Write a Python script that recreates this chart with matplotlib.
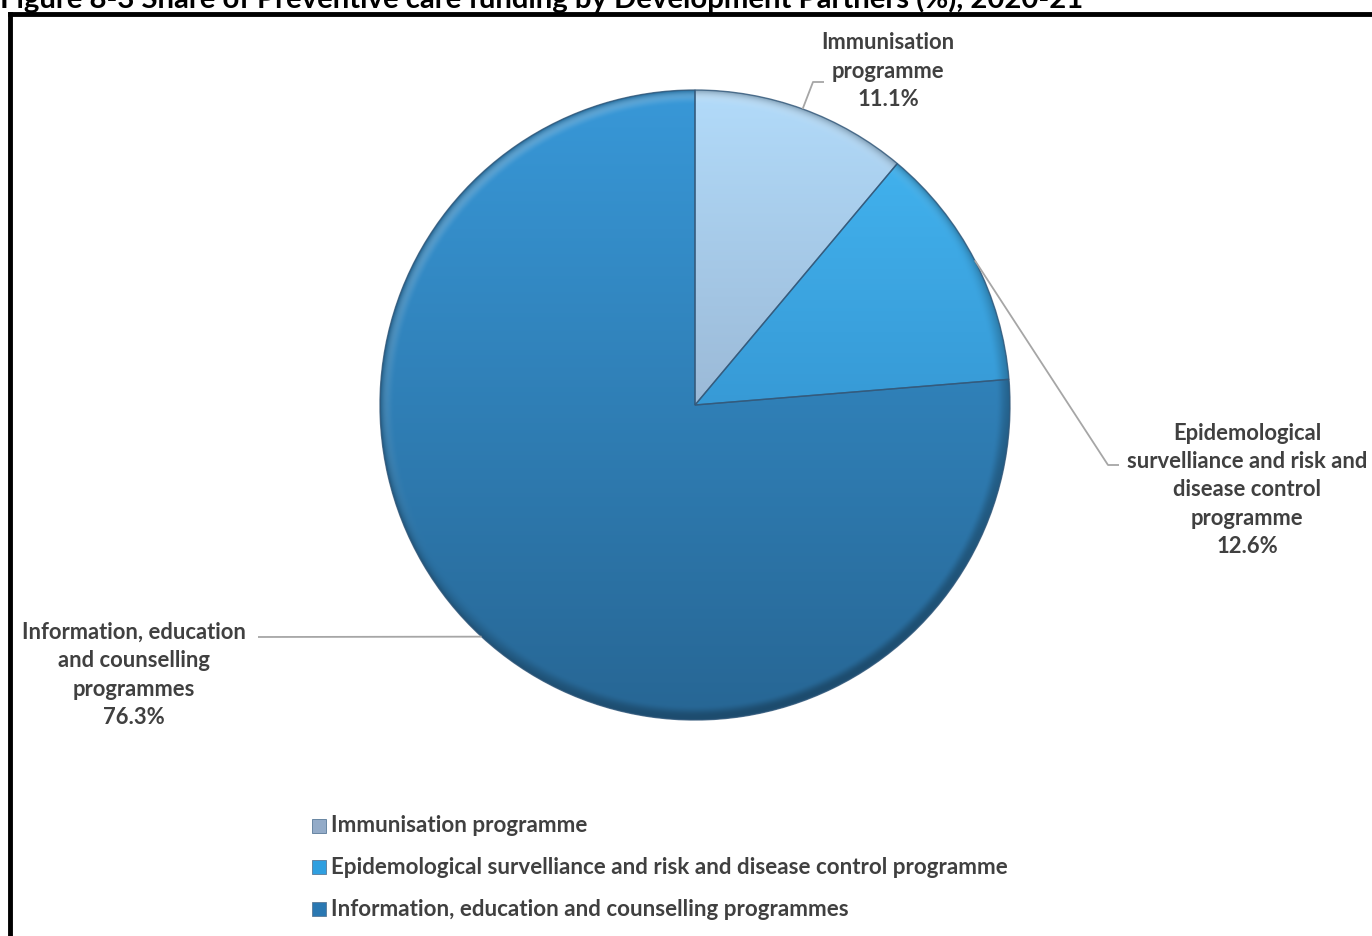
import numpy as np
import matplotlib
matplotlib.use("Agg")
import matplotlib.pyplot as plt
from matplotlib.colors import to_rgb
from matplotlib.patches import Wedge

# ---- data -------------------------------------------------------------
categories = [
    "Immunisation programme",
    "Epidemological survelliance and risk and disease control programme",
    "Information, education and counselling programmes",
]
shares = [11.1, 12.6, 76.3]
label_lines = [
    ["Immunisation", "programme"],
    ["Epidemological", "survelliance and risk and", "disease control", "programme"],
    ["Information, education", "and counselling", "programmes"],
]
title = "Figure 8-3 Share of Preventive care funding by Development Partners (%), 2020-21"

# top / bottom colours of each slice's vertical gradient
grad_top = ["#b2dbfa", "#44b8f4", "#3898d8"]
grad_bot = ["#8498b4", "#2a7cb8", "#276694"]
legend_colors = ["#93abc8", "#2f9fe0", "#2a78b2"]

TEXT = "#404040"
FONT = "Lato"

W, H = 1372, 936
fig = plt.figure(figsize=(W / 100, H / 100), dpi=100)
ax = fig.add_axes([0, 0, 1, 1])

cx, cy, R = 695, H - 405, 315
wedges, _ = ax.pie(shares, startangle=90, counterclock=False,
                   center=(cx, cy), radius=R, colors=legend_colors,
                   wedgeprops=dict(linewidth=0))
ax.set_xlim(0, W)
ax.set_ylim(0, H)
ax.set_aspect("equal")
ax.axis("off")

# shaded fill: vertical gradient with a bevelled rim
n = 700
xs = np.linspace(cx - R, cx + R, n)
ys = np.linspace(cy - R, cy + R, n)
X, Y = np.meshgrid(xs, ys)
rr = np.hypot(X - cx, Y - cy) / R
t = (Y - (cy - R)) / (2 * R)           # 0 bottom .. 1 top
ang = np.arctan2(Y - cy, X - cx)
rim = np.clip((rr - 0.955) / 0.045, 0, 1)
rim_dir = np.cos(ang - np.deg2rad(120))  # light from upper left
for w, ct, cb in zip(wedges, grad_top, grad_bot):
    ct, cb = np.array(to_rgb(ct)), np.array(to_rgb(cb))
    img = cb[None, None, :] * (1 - t[..., None]) + ct[None, None, :] * t[..., None]
    shade = rim * np.sin(rim * np.pi) * 0.35 * rim_dir
    lighten = np.clip(shade, 0, None)[..., None]
    darken = np.clip(-shade, 0, None)[..., None]
    img = img + (1 - img) * lighten - img * darken
    img = img * (1 - 0.25 * rim[..., None] ** 3)
    im = ax.imshow(np.clip(img, 0, 1), extent=(cx - R, cx + R, cy - R, cy + R),
                   origin="lower", interpolation="bilinear", zorder=2)
    im.set_clip_path(w)
    outline = Wedge(w.center, w.r, w.theta1, w.theta2, facecolor="none",
                    edgecolor="#34597a", linewidth=1.0, alpha=0.8, zorder=3)
    ax.add_patch(outline)

# ---- labels with leader lines ----------------------------------------
def fit(txt, target):
    r = fig.canvas.get_renderer()
    txt.set_fontsize(txt.get_fontsize() * target / txt.get_window_extent(r).width)
    return txt.get_fontsize()

probe = ax.text(0, 0, "survelliance and risk and", fontsize=16, weight="bold", family=FONT)
lab_fs = fit(probe, 240)
probe.remove()

label_pos = [(888, 71), (1247, 490), (134, 675)]
elbows = [((813, 82), (824, 82)), ((1108, 465), (1119, 465)), ((258, 637), (258, 637))]
for lines, v, (lx, ly), (e1, e2), w in zip(label_lines, shares, label_pos, elbows, wedges):
    txt = "\n".join(lines + [f"{v:.1f}%"])
    ax.text(lx, H - ly, txt, ha="center", va="center", multialignment="center",
            fontsize=lab_fs, weight="bold", color=TEXT, family=FONT,
            linespacing=1.43, zorder=5)
    mid = np.deg2rad((w.theta1 + w.theta2) / 2)
    px, py = cx + R * np.cos(mid), cy + R * np.sin(mid)
    ax.plot([px, e1[0], e2[0]], [py, H - e1[1], H - e2[1]], color="#a6a6a6",
            lw=1.3, zorder=4, solid_capstyle="butt")

# ---- legend ------------------------------------------------------------
leg_rows = [826, 867, 909]
probe = ax.text(0, 0, categories[1], fontsize=16, weight="bold", family=FONT)
leg_fs = fit(probe, 680)
probe.remove()
for name, col, ry in zip(categories, legend_colors, leg_rows):
    ax.add_patch(plt.Rectangle((312, H - ry - 7), 14, 14, facecolor=col,
                               edgecolor="#5a7a98", linewidth=0.6, zorder=5))
    ax.text(331, H - ry, name, ha="left", va="center", fontsize=leg_fs,
            weight="bold", color=TEXT, family=FONT, zorder=5)

# ---- frame and title ---------------------------------------------------
ax.plot([10, 10], [H - 14, -5], color="black", lw=3.5, zorder=6, solid_capstyle="projecting")
ax.plot([10, W + 5], [H - 14, H - 14], color="black", lw=3.5, zorder=6, solid_capstyle="projecting")
t_obj = fig.text(0, 1 - 8 / H, title, ha="left", va="baseline", fontsize=20,
                 weight="bold", color="black", family=FONT)
fit(t_obj, 1085)

fig.savefig("out.png", dpi=100)
